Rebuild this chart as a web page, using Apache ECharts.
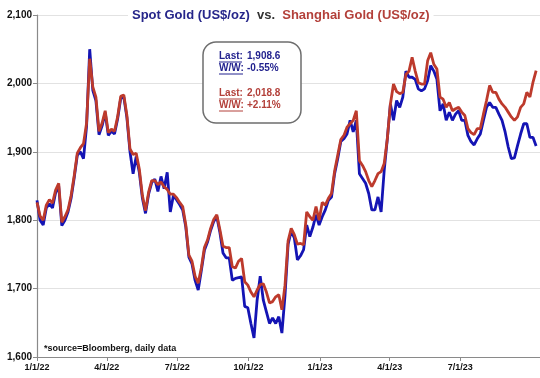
<!DOCTYPE html>
<html>
<head>
<meta charset="utf-8">
<script src="https://cdn.jsdelivr.net/npm/echarts@6/dist/echarts.min.js"></script>
<style>html,body{margin:0;padding:0;background:#fff;}#c{width:540px;height:378px;}</style>
</head>
<body>
<div id="c"></div>
<script>
// ---- data ----
const dates = [
"2022-01-01","2022-01-05","2022-01-09","2022-01-13","2022-01-17","2022-01-21","2022-01-25","2022-01-29",
"2022-02-02","2022-02-06","2022-02-10","2022-02-14","2022-02-18","2022-02-22","2022-02-26",
"2022-03-02","2022-03-06","2022-03-10","2022-03-14","2022-03-18","2022-03-22","2022-03-26","2022-03-30",
"2022-04-03","2022-04-07","2022-04-11","2022-04-15","2022-04-19","2022-04-23","2022-04-27",
"2022-05-01","2022-05-05","2022-05-09","2022-05-13","2022-05-17","2022-05-21","2022-05-25","2022-05-29",
"2022-06-02","2022-06-06","2022-06-10","2022-06-14","2022-06-18","2022-06-22","2022-06-26","2022-06-30",
"2022-07-04","2022-07-08","2022-07-12","2022-07-16","2022-07-20","2022-07-24","2022-07-28",
"2022-08-01","2022-08-05","2022-08-09","2022-08-13","2022-08-17","2022-08-21","2022-08-25","2022-08-29",
"2022-09-02","2022-09-06","2022-09-10","2022-09-14","2022-09-18","2022-09-22","2022-09-26","2022-09-30",
"2022-10-04","2022-10-08","2022-10-12","2022-10-16","2022-10-20","2022-10-24","2022-10-28",
"2022-11-01","2022-11-05","2022-11-09","2022-11-13","2022-11-17","2022-11-21","2022-11-25","2022-11-29",
"2022-12-03","2022-12-07","2022-12-11","2022-12-15","2022-12-19","2022-12-23","2022-12-27","2022-12-31",
"2023-01-04","2023-01-08","2023-01-12","2023-01-16","2023-01-20","2023-01-24","2023-01-28",
"2023-02-01","2023-02-05","2023-02-09","2023-02-13","2023-02-17","2023-02-21","2023-02-25",
"2023-03-01","2023-03-05","2023-03-09","2023-03-13","2023-03-17","2023-03-21","2023-03-25","2023-03-29",
"2023-04-02","2023-04-06","2023-04-10","2023-04-14","2023-04-18","2023-04-22","2023-04-26","2023-04-30",
"2023-05-04","2023-05-08","2023-05-12","2023-05-16","2023-05-20","2023-05-24","2023-05-28",
"2023-06-01","2023-06-05","2023-06-09","2023-06-13","2023-06-17","2023-06-21","2023-06-25","2023-06-29",
"2023-07-03","2023-07-07","2023-07-11","2023-07-15","2023-07-19","2023-07-23","2023-07-27","2023-07-31",
"2023-08-04","2023-08-08","2023-08-12","2023-08-16","2023-08-20","2023-08-24","2023-08-28",
"2023-09-01","2023-09-05","2023-09-09","2023-09-13","2023-09-17","2023-09-21","2023-09-25","2023-09-29",
"2023-10-03","2023-10-07"
];
const spotGold = [
1829,1800,1793,1818,1824,1818,1840,1850,
1792,1800,1812,1832,1862,1895,1900,
1890,1938,2050,1990,1975,1925,1938,1957,
1924,1930,1926,1948,1978,1980,1950,
1900,1868,1893,1870,1832,1810,1838,1855,
1860,1842,1864,1846,1870,1812,1836,1830,
1823,1815,1790,1746,1736,1712,1698,
1726,1756,1768,1785,1798,1805,1782,1752,
1745,1745,1712,1715,1716,1717,1674,1672,
1649,1628,1683,1718,1683,1666,1649,
1657,1649,1659,1635,1690,1765,1784,1774,
1742,1748,1757,1793,1776,1790,1808,1793,
1805,1815,1829,1834,1868,1890,1915,
1919,1926,1946,1929,1946,1868,1861,
1854,1839,1815,1815,1834,1812,1873,1919,
1970,1946,1975,1965,1980,2018,2009,2009,
2006,1992,1989,1992,2004,2026,2018,
2006,1960,1970,1946,1958,1946,1955,1960,
1946,1946,1924,1915,1910,1919,1926,1946,
1965,1972,1965,1965,1955,1946,1929,
1907,1890,1891,1909,1926,1941,1941,1921,
1921,1908.6
];
const shanghaiGold = [
1826,1806,1800,1822,1830,1825,1844,1854,
1797,1805,1815,1836,1865,1898,1906,
1912,1942,2036,1995,1980,1930,1942,1960,
1928,1933,1930,1951,1981,1983,1953,
1904,1896,1898,1875,1836,1814,1841,1858,
1858,1852,1856,1849,1845,1838,1838,1833,
1826,1820,1793,1749,1740,1718,1708,
1730,1760,1771,1788,1801,1808,1786,1762,
1760,1760,1732,1730,1740,1744,1710,1705,
1695,1688,1698,1706,1707,1695,1679,
1681,1688,1691,1669,1705,1770,1788,1779,
1765,1766,1764,1812,1805,1800,1820,1800,
1826,1822,1832,1839,1872,1895,1918,
1924,1936,1941,1946,1960,1887,1880,
1871,1858,1849,1858,1868,1871,1883,1919,
1970,1999,1988,1985,1987,2013,2018,2038,
2018,2001,1999,1999,2033,2045,2028,
2021,1980,1977,1965,1972,1960,1963,1965,
1958,1953,1934,1928,1925,1934,1934,1955,
1975,1997,1987,1987,1977,1970,1965,
1958,1951,1946,1951,1965,1970,1987,1980,
2002,2018.8
];
const xTickDates = ["2022-01-01","2022-04-01","2022-07-01","2022-10-01","2023-01-01","2023-04-01","2023-07-01"];
const xRange = ["2022-01-01", "2023-10-12"];
const yTicks = [1600, 1700, 1800, 1900, 2000, 2100];
const boxLines = [
  { label: "Last:", value: "1,908.6", color: "#23238f" },
  { label: "W/W:",  value: "-0.55%",  color: "#23238f" },
  { label: "Last:", value: "2,018.8", color: "#b3403a" },
  { label: "W/W:",  value: "+2.11%",  color: "#b3403a" }
];

// ---- chart ----
const toTs = s => { const p = s.split('-').map(Number); return Date.UTC(p[0], p[1]-1, p[2]); };
const FONT = "Arial, 'Liberation Sans', sans-serif";
const chart = echarts.init(document.getElementById('c'), null, { renderer: 'canvas' });

const boxY = [56, 68, 93, 105];
const graphics = [
  { type: 'rect', z: 10, shape: { x: 203, y: 42, width: 98, height: 81, r: 13 },
    style: { fill: '#fff', stroke: '#6e6e6e', lineWidth: 1.5 } }
];
boxLines.forEach((b, i) => {
  graphics.push({ type: 'text', z: 11, x: 219, y: boxY[i],
    style: { text: b.label, fill: b.color, font: 'bold 10px ' + FONT, textVerticalAlign: 'middle' } });
  graphics.push({ type: 'line', z: 11, shape: { x1: 219, y1: boxY[i] + 6, x2: 219 + (b.label === 'Last:' ? 23 : 24), y2: boxY[i] + 6 },
    style: { stroke: b.color, lineWidth: 1 } });
  graphics.push({ type: 'text', z: 11, x: 247, y: boxY[i],
    style: { text: b.value, fill: b.color, font: 'bold 10px ' + FONT, textVerticalAlign: 'middle' } });
});
graphics.push({ type: 'text', z: 11, x: 44, y: 349,
  style: { text: '*source=Bloomberg, daily data', fill: '#111', font: 'bold 9px ' + FONT, textVerticalAlign: 'middle' } });

const fmtDate = v => { const d = new Date(v); return (d.getUTCMonth()+1) + '/' + d.getUTCDate() + '/' + String(d.getUTCFullYear()).slice(2); };

chart.setOption({
  animation: false,
  backgroundColor: '#fff',
  title: {
    text: '{a|Spot Gold (US$/oz)}  {b|vs.}  {c|Shanghai Gold (US$/oz)}',
    left: 128, top: 7,
    backgroundColor: '#fff',
    padding: [0, 4, 0, 4],
    textStyle: {
      fontSize: 13, fontWeight: 'bold', fontFamily: FONT, lineHeight: 16,
      rich: {
        a: { color: '#26268a', fontSize: 13, fontWeight: 'bold', fontFamily: FONT },
        b: { color: '#333', fontSize: 13, fontWeight: 'bold', fontFamily: FONT },
        c: { color: '#b3403a', fontSize: 13, fontWeight: 'bold', fontFamily: FONT }
      }
    }
  },
  grid: { left: 37, right: 0, top: 15, bottom: 21, containLabel: false },
  xAxis: {
    type: 'value',
    min: toTs(xRange[0]),
    max: toTs(xRange[1]),
    axisLine: { show: true, lineStyle: { color: '#8a8a8a', width: 1.2 } },
    axisTick: { show: true, length: 4, lineStyle: { color: '#8a8a8a' }, customValues: xTickDates.map(toTs) },
    splitLine: { show: false },
    axisLabel: {
      customValues: xTickDates.map(toTs),
      color: '#111', fontSize: 9, fontWeight: 'bold', fontFamily: FONT, margin: 6,
      formatter: fmtDate
    }
  },
  yAxis: {
    type: 'value',
    min: yTicks[0], max: yTicks[yTicks.length-1], interval: 100,
    axisLine: { show: true, lineStyle: { color: '#8a8a8a', width: 1.2 } },
    axisTick: { show: true, length: 4, lineStyle: { color: '#8a8a8a' } },
    splitLine: { show: true, lineStyle: { color: '#e2e2e2', width: 1 } },
    axisLabel: {
      color: '#111', fontSize: 10, fontWeight: 'bold', fontFamily: FONT, margin: 5,
      formatter: v => v.toLocaleString('en-US')
    }
  },
  series: [
    { name: 'Spot Gold', type: 'line', showSymbol: false, z: 2,
      data: dates.map((d, i) => [toTs(d), spotGold[i]]),
      lineStyle: { color: '#1414b4', width: 2.8 }, itemStyle: { color: '#1414b4' } },
    { name: 'Shanghai Gold', type: 'line', showSymbol: false, z: 3,
      data: dates.map((d, i) => [toTs(d), shanghaiGold[i]]),
      lineStyle: { color: '#bd3a2c', width: 2.8 }, itemStyle: { color: '#bd3a2c' } }
  ],
  graphic: graphics
});
</script>
</body>
</html>
